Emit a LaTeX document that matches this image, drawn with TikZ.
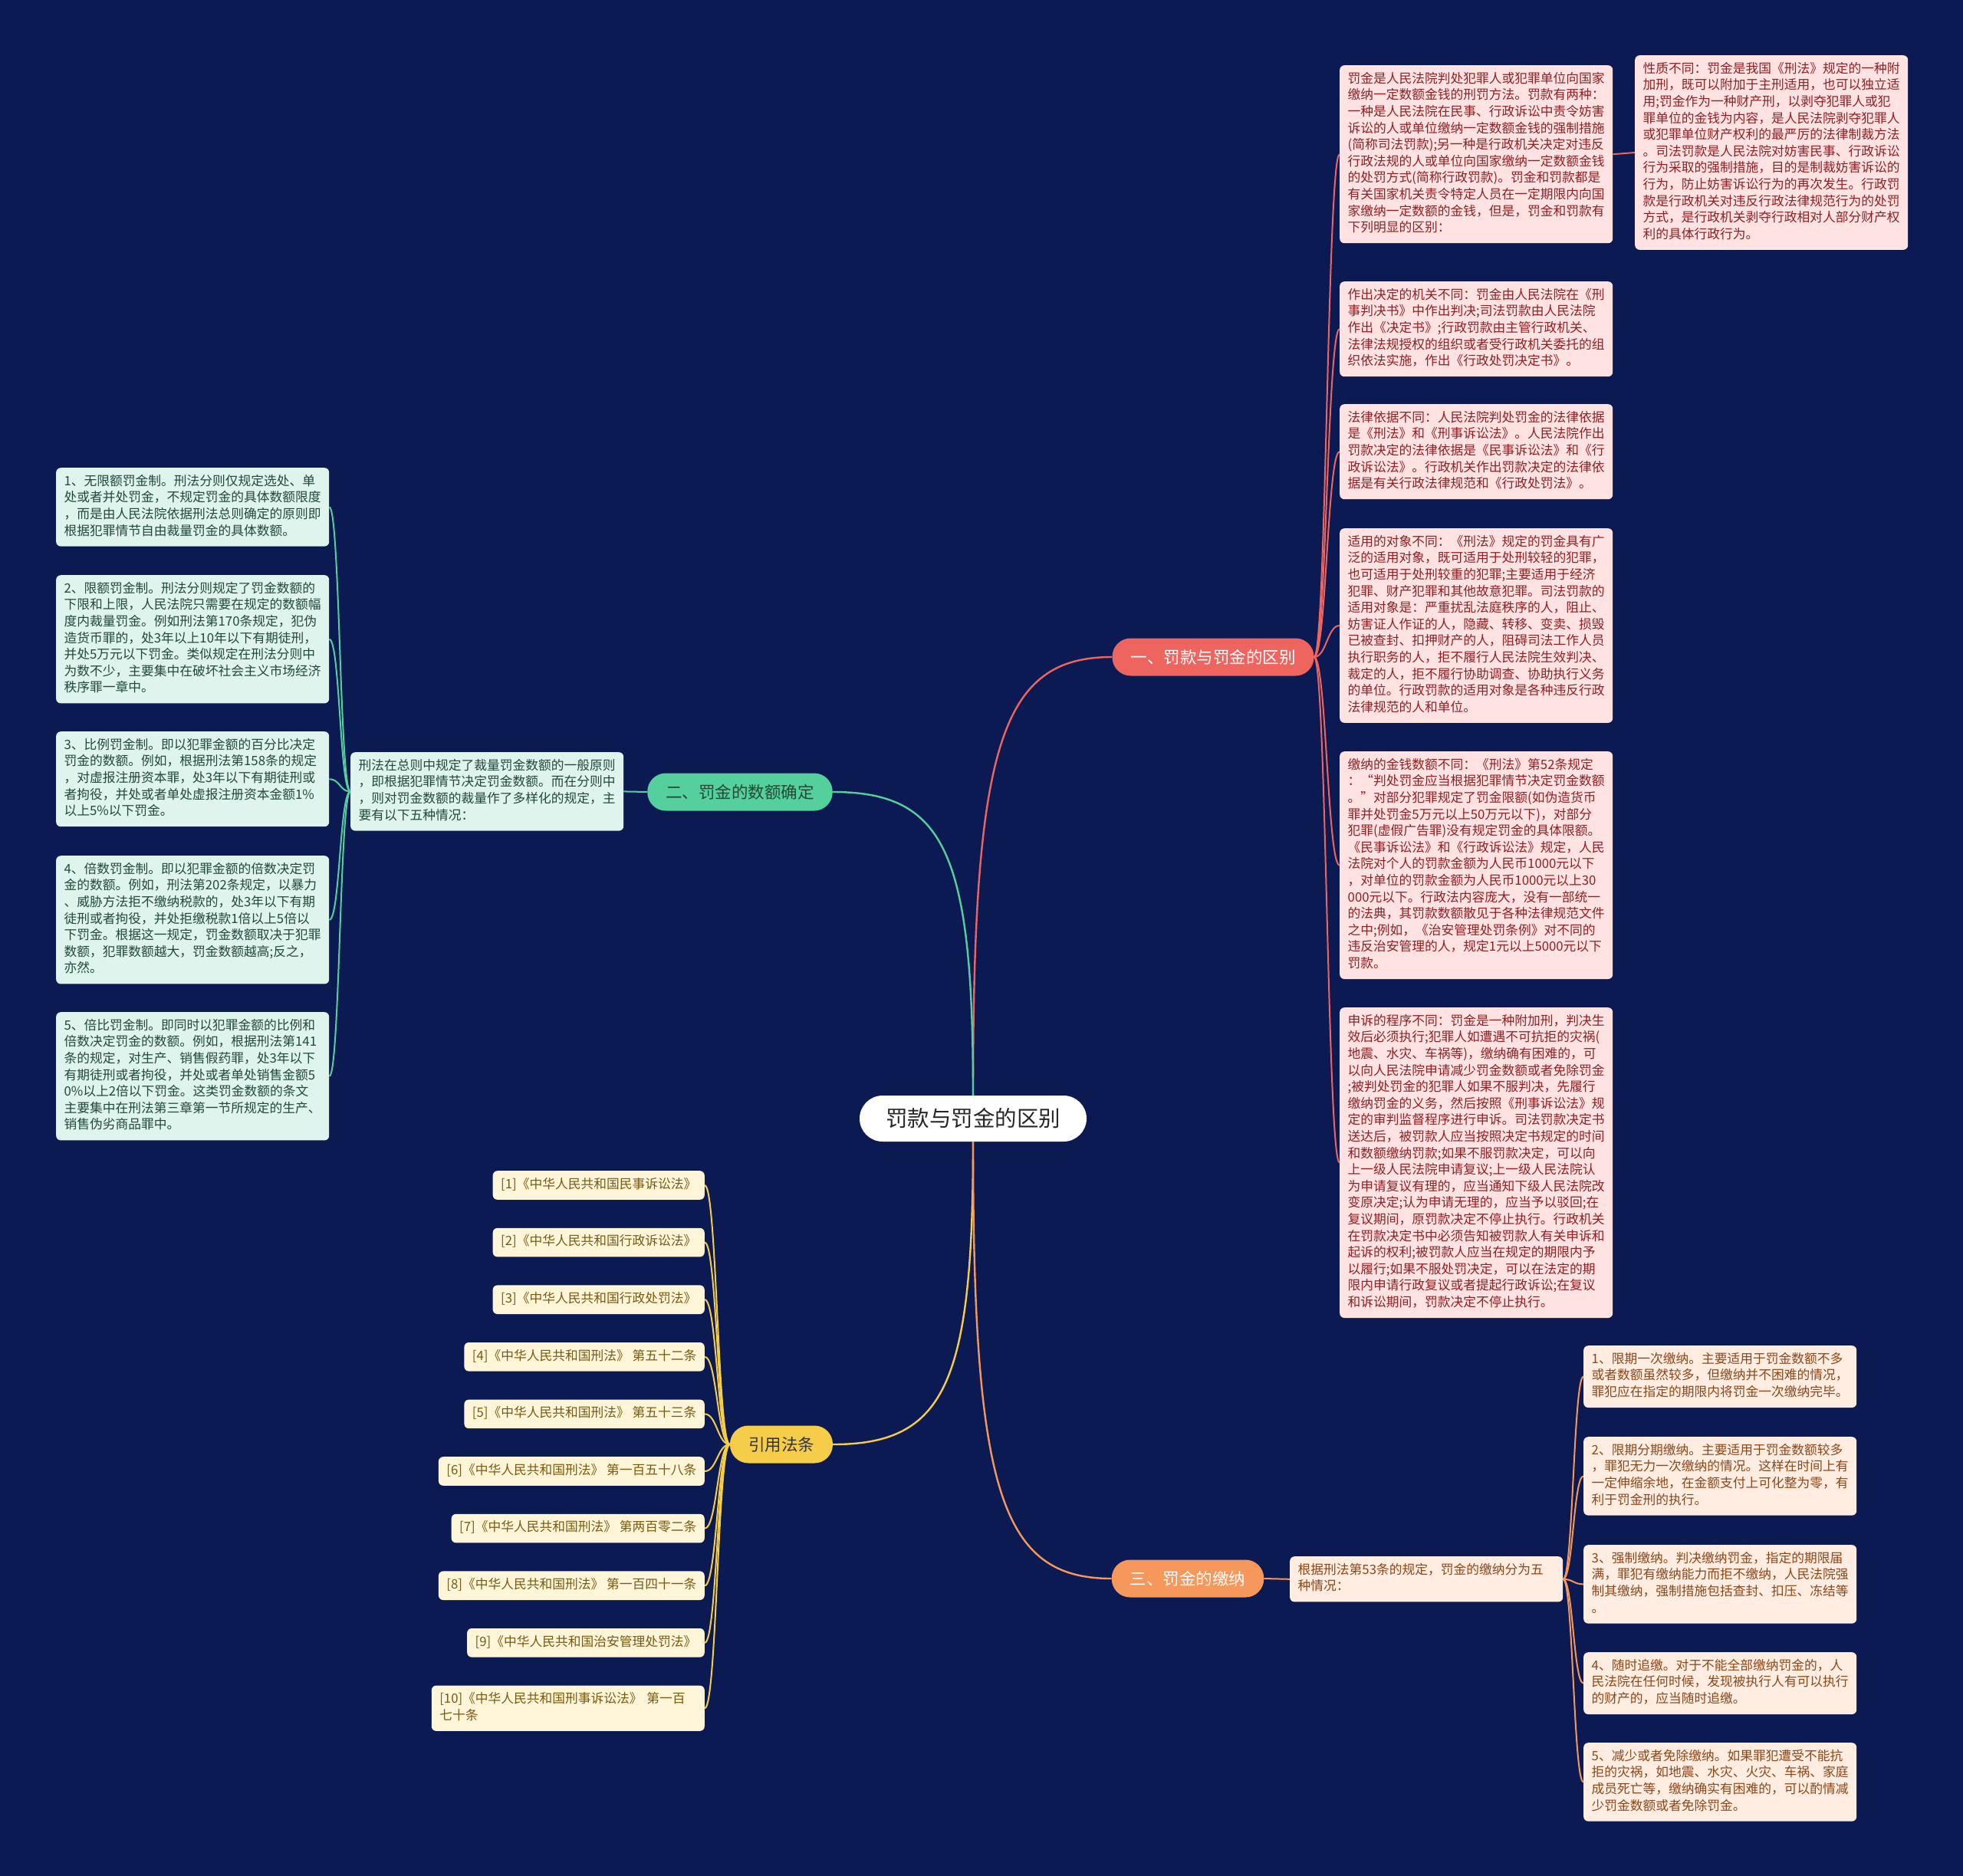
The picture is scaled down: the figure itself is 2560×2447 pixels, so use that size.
\documentclass[tikz,border=0pt]{standalone}
\usepackage{fontspec}
\setmainfont{Noto Sans CJK SC}
\usetikzlibrary{calc}

\definecolor{navy}{HTML}{0B1A52}
\definecolor{redmain}{HTML}{EE6560}
\definecolor{redsoft}{HTML}{FFE3E3}
\definecolor{redtext}{HTML}{8E1F22}
\definecolor{greenmain}{HTML}{55CF9C}
\definecolor{greensoft}{HTML}{DFF4EC}
\definecolor{greentext}{HTML}{22483A}
\definecolor{yellowmain}{HTML}{F6CD48}
\definecolor{yellowsoft}{HTML}{FFF6DA}
\definecolor{yellowtext}{HTML}{79590F}
\definecolor{orangemain}{HTML}{F6975C}
\definecolor{orangesoft}{HTML}{FFEDE1}
\definecolor{orangetext}{HTML}{8B4618}

\begin{document}
\begin{tikzpicture}[x=1pt, y=-1pt,
    rootnode/.style={fill=white, text=black!85, font=\fontsize{28.5}{34}\selectfont, inner xsep=34pt, minimum height=60pt, rounded corners=30pt},
    branch/.style={font=\fontsize{21.5}{26}\selectfont, inner xsep=24pt, minimum height=49pt, rounded corners=24pt},
    leaf/.style={font=\fontsize{16.75}{21.6}\selectfont, align=left, inner xsep=10.5pt, inner ysep=8pt, rounded corners=6pt, execute at begin node=\strut, execute at end node=\strut},
    redbox/.style={leaf, fill=redsoft, text=redtext, text width=335pt, anchor=north west},
    greenbox/.style={leaf, fill=greensoft, text=greentext, text width=335pt, anchor=north west},
    yellowbox/.style={leaf, fill=yellowsoft, text=yellowtext, anchor=north east},
    orangebox/.style={leaf, fill=orangesoft, text=orangetext, text width=335pt, anchor=north west},
    redline/.style={draw=redmain, line width=2pt},
    greenline/.style={draw=greenmain, line width=2pt},
    yellowline/.style={draw=yellowmain, line width=2pt},
    orangeline/.style={draw=orangemain, line width=2pt}]

    % Background
    \fill[navy] (0,0) rectangle (2560,2447);

    % Root and main branches
    \node[rootnode] (root) at (1269,1459) {罚款与罚金的区别};
    \node[branch, fill=redmain, text=white] (diff) at (1582,857) {一、罚款与罚金的区别};
    \node[branch, fill=greenmain, text=greentext] (amount) at (965,1033) {二、罚金的数额确定};
    \node[branch, fill=yellowmain, text=black!80] (cite) at (1019,1884) {引用法条};
    \node[branch, fill=orangemain, text=white] (pay) at (1549,2059) {三、罚金的缴纳};

    % Branch 1: differences
    \node[redbox] (d1) at (1747,85) {罚金是人民法院判处犯罪人或犯罪单位向国家\\
        缴纳一定数额金钱的刑罚方法。罚款有两种：\\
        一种是人民法院在民事、行政诉讼中责令妨害\\
        诉讼的人或单位缴纳一定数额金钱的强制措施\\
        (简称司法罚款);另一种是行政机关决定对违反\\
        行政法规的人或单位向国家缴纳一定数额金钱\\
        的处罚方式(简称行政罚款)。罚金和罚款都是\\
        有关国家机关责令特定人员在一定期限内向国\\
        家缴纳一定数额的金钱，但是，罚金和罚款有\\
        下列明显的区别：};
    \node[redbox] (d0) at (2132,72) {性质不同：罚金是我国《刑法》规定的一种附\\
        加刑，既可以附加于主刑适用，也可以独立适\\
        用;罚金作为一种财产刑，以剥夺犯罪人或犯\\
        罪单位的金钱为内容，是人民法院剥夺犯罪人\\
        或犯罪单位财产权利的最严厉的法律制裁方法\\
        。司法罚款是人民法院对妨害民事、行政诉讼\\
        行为采取的强制措施，目的是制裁妨害诉讼的\\
        行为，防止妨害诉讼行为的再次发生。行政罚\\
        款是行政机关对违反行政法律规范行为的处罚\\
        方式，是行政机关剥夺行政相对人部分财产权\\
        利的具体行政行为。};
    \node[redbox] (d2) at (1747,367) {作出决定的机关不同：罚金由人民法院在《刑\\
        事判决书》中作出判决;司法罚款由人民法院\\
        作出《决定书》;行政罚款由主管行政机关、\\
        法律法规授权的组织或者受行政机关委托的组\\
        织依法实施，作出《行政处罚决定书》。};
    \node[redbox] (d3) at (1747,527) {法律依据不同：人民法院判处罚金的法律依据\\
        是《刑法》和《刑事诉讼法》。人民法院作出\\
        罚款决定的法律依据是《民事诉讼法》和《行\\
        政诉讼法》。行政机关作出罚款决定的法律依\\
        据是有关行政法律规范和《行政处罚法》。};
    \node[redbox] (d4) at (1747,689) {适用的对象不同：《刑法》规定的罚金具有广\\
        泛的适用对象，既可适用于处刑较轻的犯罪，\\
        也可适用于处刑较重的犯罪;主要适用于经济\\
        犯罪、财产犯罪和其他故意犯罪。司法罚款的\\
        适用对象是：严重扰乱法庭秩序的人，阻止、\\
        妨害证人作证的人，隐藏、转移、变卖、损毁\\
        已被查封、扣押财产的人，阻碍司法工作人员\\
        执行职务的人，拒不履行人民法院生效判决、\\
        裁定的人，拒不履行协助调查、协助执行义务\\
        的单位。行政罚款的适用对象是各种违反行政\\
        法律规范的人和单位。};
    \node[redbox] (d5) at (1747,980) {缴纳的金钱数额不同：《刑法》第52条规定\\
        ：“判处罚金应当根据犯罪情节决定罚金数额\\
        。”对部分犯罪规定了罚金限额(如伪造货币\\
        罪并处罚金5万元以上50万元以下)，对部分\\
        犯罪(虚假广告罪)没有规定罚金的具体限额。\\
        《民事诉讼法》和《行政诉讼法》规定，人民\\
        法院对个人的罚款金额为人民币1000元以下\\
        ，对单位的罚款金额为人民币1000元以上30\\
        000元以下。行政法内容庞大，没有一部统一\\
        的法典，其罚款数额散见于各种法律规范文件\\
        之中;例如，《治安管理处罚条例》对不同的\\
        违反治安管理的人，规定1元以上5000元以下\\
        罚款。};
    \node[redbox] (d6) at (1747,1314) {申诉的程序不同：罚金是一种附加刑，判决生\\
        效后必须执行;犯罪人如遭遇不可抗拒的灾祸(\\
        地震、水灾、车祸等)，缴纳确有困难的，可\\
        以向人民法院申请减少罚金数额或者免除罚金\\
        ;被判处罚金的犯罪人如果不服判决，先履行\\
        缴纳罚金的义务，然后按照《刑事诉讼法》规\\
        定的审判监督程序进行申诉。司法罚款决定书\\
        送达后，被罚款人应当按照决定书规定的时间\\
        和数额缴纳罚款;如果不服罚款决定，可以向\\
        上一级人民法院申请复议;上一级人民法院认\\
        为申请复议有理的，应当通知下级人民法院改\\
        变原决定;认为申请无理的，应当予以驳回;在\\
        复议期间，原罚款决定不停止执行。行政机关\\
        在罚款决定书中必须告知被罚款人有关申诉和\\
        起诉的权利;被罚款人应当在规定的期限内予\\
        以履行;如果不服处罚决定，可以在法定的期\\
        限内申请行政复议或者提起行政诉讼;在复议\\
        和诉讼期间，罚款决定不停止执行。};

    % Branch 2: amount of the fine
    \node[greenbox] (a0) at (457,981) {刑法在总则中规定了裁量罚金数额的一般原则\\
        ，即根据犯罪情节决定罚金数额。而在分则中\\
        ，则对罚金数额的裁量作了多样化的规定，主\\
        要有以下五种情况：};
    \node[greenbox] (a1) at (73,610) {1、无限额罚金制。刑法分则仅规定选处、单\\
        处或者并处罚金，不规定罚金的具体数额限度\\
        ，而是由人民法院依据刑法总则确定的原则即\\
        根据犯罪情节自由裁量罚金的具体数额。};
    \node[greenbox] (a2) at (73,750) {2、限额罚金制。刑法分则规定了罚金数额的\\
        下限和上限，人民法院只需要在规定的数额幅\\
        度内裁量罚金。例如刑法第170条规定，犯伪\\
        造货币罪的，处3年以上10年以下有期徒刑，\\
        并处5万元以下罚金。类似规定在刑法分则中\\
        为数不少，主要集中在破坏社会主义市场经济\\
        秩序罪一章中。};
    \node[greenbox] (a3) at (73,954) {3、比例罚金制。即以犯罪金额的百分比决定\\
        罚金的数额。例如，根据刑法第158条的规定\\
        ，对虚报注册资本罪，处3年以下有期徒刑或\\
        者拘役，并处或者单处虚报注册资本金额1\%\\
        以上5\%以下罚金。};
    \node[greenbox] (a4) at (73,1116) {4、倍数罚金制。即以犯罪金额的倍数决定罚\\
        金的数额。例如，刑法第202条规定，以暴力\\
        、威胁方法拒不缴纳税款的，处3年以下有期\\
        徒刑或者拘役，并处拒缴税款1倍以上5倍以\\
        下罚金。根据这一规定，罚金数额取决于犯罪\\
        数额，犯罪数额越大，罚金数额越高;反之，\\
        亦然。};
    \node[greenbox] (a5) at (73,1320) {5、倍比罚金制。即同时以犯罪金额的比例和\\
        倍数决定罚金的数额。例如，根据刑法第141\\
        条的规定，对生产、销售假药罪，处3年以下\\
        有期徒刑或者拘役，并处或者单处销售金额5\\
        0\%以上2倍以下罚金。这类罚金数额的条文\\
        主要集中在刑法第三章第一节所规定的生产、\\
        销售伪劣商品罪中。};

    % Cited laws
    \node[yellowbox] (c1) at (919,1527) {[1]《中华人民共和国民事诉讼法》};
    \node[yellowbox] (c2) at (919,1601.6) {[2]《中华人民共和国行政诉讼法》};
    \node[yellowbox] (c3) at (919,1676.2) {[3]《中华人民共和国行政处罚法》};
    \node[yellowbox] (c4) at (919,1750.8) {[4]《中华人民共和国刑法》 第五十二条};
    \node[yellowbox] (c5) at (919,1825.4) {[5]《中华人民共和国刑法》 第五十三条};
    \node[yellowbox] (c6) at (919,1900) {[6]《中华人民共和国刑法》 第一百五十八条};
    \node[yellowbox] (c7) at (919,1974.6) {[7]《中华人民共和国刑法》 第两百零二条};
    \node[yellowbox] (c8) at (919,2049.2) {[8]《中华人民共和国刑法》 第一百四十一条};
    \node[yellowbox] (c9) at (919,2123.8) {[9]《中华人民共和国治安管理处罚法》};
    \node[yellowbox, text width=335pt] (c10) at (919,2198.4) {[10]《中华人民共和国刑事诉讼法》 第一百\\
        七十条};

    % Branch 3: payment
    \node[orangebox] (p0) at (1682,2030) {根据刑法第53条的规定，罚金的缴纳分为五\\
        种情况：};
    \node[orangebox] (p1) at (2065,1755) {1、限期一次缴纳。主要适用于罚金数额不多\\
        或者数额虽然较多，但缴纳并不困难的情况，\\
        罪犯应在指定的期限内将罚金一次缴纳完毕。};
    \node[orangebox] (p2) at (2065,1874) {2、限期分期缴纳。主要适用于罚金数额较多\\
        ，罪犯无力一次缴纳的情况。这样在时间上有\\
        一定伸缩余地，在金额支付上可化整为零，有\\
        利于罚金刑的执行。};
    \node[orangebox] (p3) at (2065,2015) {3、强制缴纳。判决缴纳罚金，指定的期限届\\
        满，罪犯有缴纳能力而拒不缴纳，人民法院强\\
        制其缴纳，强制措施包括查封、扣压、冻结等\\
        。};
    \node[orangebox] (p4) at (2065,2155) {4、随时追缴。对于不能全部缴纳罚金的，人\\
        民法院在任何时候，发现被执行人有可以执行\\
        的财产的，应当随时追缴。};
    \node[orangebox] (p5) at (2065,2273) {5、减少或者免除缴纳。如果罪犯遭受不能抗\\
        拒的灾祸，如地震、水灾、火灾、车祸、家庭\\
        成员死亡等，缴纳确实有困难的，可以酌情减\\
        少罚金数额或者免除罚金。};

    % Root to branches
    \draw[redline, line width=2.4pt] (root.north) .. controls ($(root.north)!.8!(root.north |- diff.west)$) and ($(diff.west)!.8!(root.north |- diff.west)$) .. (diff.west);
    \draw[greenline, line width=2.4pt] (root.north) .. controls ($(root.north)!.8!(root.north |- amount.east)$) and ($(amount.east)!.8!(root.north |- amount.east)$) .. (amount.east);
    \draw[yellowline, line width=2.4pt] (root.south) .. controls ($(root.south)!.8!(root.south |- cite.east)$) and ($(cite.east)!.8!(root.south |- cite.east)$) .. (cite.east);
    \draw[orangeline, line width=2.4pt] (root.south) .. controls ($(root.south)!.8!(root.south |- pay.west)$) and ($(pay.west)!.8!(root.south |- pay.west)$) .. (pay.west);

    % Branch 1 connectors
    \draw[redline] (diff.east) .. controls +(16,0) and +(-16,0) .. (d1.west);
    \draw[redline] (diff.east) .. controls +(16,0) and +(-16,0) .. (d2.west);
    \draw[redline] (diff.east) .. controls +(16,0) and +(-16,0) .. (d3.west);
    \draw[redline] (diff.east) .. controls +(16,0) and +(-16,0) .. (d4.west);
    \draw[redline] (diff.east) .. controls +(16,0) and +(-16,0) .. (d5.west);
    \draw[redline] (diff.east) .. controls +(16,0) and +(-16,0) .. (d6.west);
    \draw[redline] (d1.east) -- (d0.west);

    % Branch 2 connectors
    \draw[greenline] (amount.west) -- (a0.east);
    \draw[greenline] (a0.west) .. controls +(-14,0) and +(14,0) .. (a1.east);
    \draw[greenline] (a0.west) .. controls +(-14,0) and +(14,0) .. (a2.east);
    \draw[greenline] (a0.west) .. controls +(-14,0) and +(14,0) .. (a3.east);
    \draw[greenline] (a0.west) .. controls +(-14,0) and +(14,0) .. (a4.east);
    \draw[greenline] (a0.west) .. controls +(-14,0) and +(14,0) .. (a5.east);

    % Citation connectors
    \draw[yellowline] (cite.west) .. controls +(-16,0) and +(16,0) .. (c1.east);
    \draw[yellowline] (cite.west) .. controls +(-16,0) and +(16,0) .. (c2.east);
    \draw[yellowline] (cite.west) .. controls +(-16,0) and +(16,0) .. (c3.east);
    \draw[yellowline] (cite.west) .. controls +(-16,0) and +(16,0) .. (c4.east);
    \draw[yellowline] (cite.west) .. controls +(-16,0) and +(16,0) .. (c5.east);
    \draw[yellowline] (cite.west) .. controls +(-16,0) and +(16,0) .. (c6.east);
    \draw[yellowline] (cite.west) .. controls +(-16,0) and +(16,0) .. (c7.east);
    \draw[yellowline] (cite.west) .. controls +(-16,0) and +(16,0) .. (c8.east);
    \draw[yellowline] (cite.west) .. controls +(-16,0) and +(16,0) .. (c9.east);
    \draw[yellowline] (cite.west) .. controls +(-16,0) and +(16,0) .. (c10.east);

    % Branch 3 connectors
    \draw[orangeline] (pay.east) -- (p0.west);
    \draw[orangeline] (p0.east) .. controls +(13,0) and +(-13,0) .. (p1.west);
    \draw[orangeline] (p0.east) .. controls +(13,0) and +(-13,0) .. (p2.west);
    \draw[orangeline] (p0.east) .. controls +(13,0) and +(-13,0) .. (p3.west);
    \draw[orangeline] (p0.east) .. controls +(13,0) and +(-13,0) .. (p4.west);
    \draw[orangeline] (p0.east) .. controls +(13,0) and +(-13,0) .. (p5.west);

\end{tikzpicture}
\end{document}
